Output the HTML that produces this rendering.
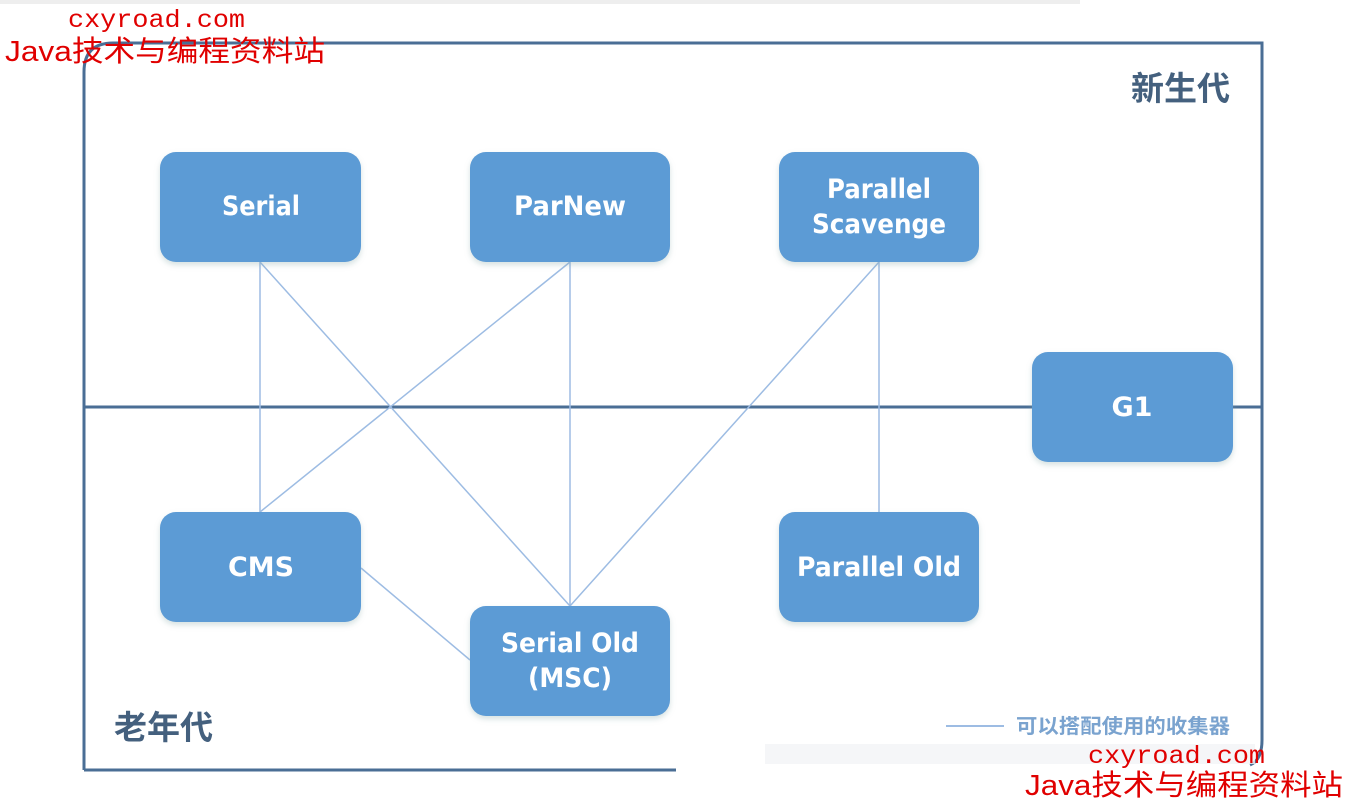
<!DOCTYPE html>
<html><head><meta charset="utf-8"><style>
html,body{margin:0;padding:0;background:#fff;width:1350px;height:803px;overflow:hidden}
svg{display:block}
</style></head><body>
<svg width="1350" height="803" viewBox="0 0 1350 803" xmlns="http://www.w3.org/2000/svg">
<defs>
<filter id="sh" x="-10%" y="-10%" width="120%" height="130%"><feDropShadow dx="0" dy="3" stdDeviation="3" flood-color="#8aa" flood-opacity="0.35"/></filter>
</defs>
<rect x="0" y="0" width="1080" height="4" fill="#eeeeee"/>
<path d="M84 770 L84 72 Q84 43 113 43 L1262 43 L1262 740 Q1262 760 1250 765" fill="none" stroke="#4a6e95" stroke-width="3"/>
<line x1="84" y1="770" x2="676" y2="770" stroke="#4a6e95" stroke-width="3"/>
<rect x="765" y="744" width="490" height="20" fill="#f2f4f6" opacity="0.8"/>
<line x1="84" y1="407" x2="1262" y2="407" stroke="#4a6e95" stroke-width="3"/>
<g stroke="#9dbce3" stroke-width="1.5" fill="none">
<line x1="260" y1="262" x2="260" y2="512"/>
<line x1="260" y1="262" x2="570" y2="606"/>
<line x1="570" y1="262" x2="260" y2="512"/>
<line x1="570" y1="262" x2="570" y2="606"/>
<line x1="879" y1="262" x2="570" y2="606"/>
<line x1="879" y1="262" x2="879" y2="512"/>
<line x1="361" y1="568" x2="470" y2="660"/>
</g>
<g fill="#5b9bd5" filter="url(#sh)">
<rect x="160" y="152" width="201" height="110" rx="16"/>
<rect x="470" y="152" width="200" height="110" rx="16"/>
<rect x="779" y="152" width="200" height="110" rx="16"/>
<rect x="1032" y="352" width="201" height="110" rx="16"/>
<rect x="160" y="512" width="201" height="110" rx="16"/>
<rect x="779" y="512" width="200" height="110" rx="16"/>
<rect x="470" y="606" width="200" height="110" rx="16"/>
</g>
<g fill="#fff" font-family="'DejaVu Sans','Liberation Sans',sans-serif" font-weight="bold" font-size="27" text-anchor="middle" lengthAdjust="spacingAndGlyphs">
<text x="261" y="215" textLength="78" lengthAdjust="spacingAndGlyphs">Serial</text>
<text x="570" y="215" textLength="112" lengthAdjust="spacingAndGlyphs">ParNew</text>
<text x="879" y="198" textLength="104" lengthAdjust="spacingAndGlyphs">Parallel</text>
<text x="879" y="233" textLength="134" lengthAdjust="spacingAndGlyphs">Scavenge</text>
<text x="1132" y="416">G1</text>
<text x="261" y="576" textLength="66" lengthAdjust="spacingAndGlyphs">CMS</text>
<text x="879" y="576" textLength="164" lengthAdjust="spacingAndGlyphs">Parallel Old</text>
<text x="570" y="652" textLength="138" lengthAdjust="spacingAndGlyphs">Serial Old</text>
<text x="570" y="687" textLength="84" lengthAdjust="spacingAndGlyphs">(MSC)</text>
</g>
<g font-family="'Noto Sans CJK SC',sans-serif" font-weight="bold" fill="#44607e" font-size="33">
<text x="1131" y="100">新生代</text>
<text x="114" y="739">老年代</text>
</g>
<line x1="946" y1="726" x2="1004" y2="726" stroke="#9dbce3" stroke-width="2"/>
<text x="1016" y="733" textLength="214" lengthAdjust="spacingAndGlyphs" font-family="'Noto Sans CJK SC',sans-serif" font-size="20" font-weight="bold" fill="#7aa3cf">可以搭配使用的收集器</text>
<g font-family="'Liberation Mono','WenQuanYi Zen Hei',monospace" fill="#e00000">
<text x="68" y="27" font-size="25" textLength="177" lengthAdjust="spacingAndGlyphs">cxyroad.com</text>
<text x="5" y="61" font-size="29" textLength="320" lengthAdjust="spacingAndGlyphs" font-family="'WenQuanYi Zen Hei','Liberation Sans',sans-serif">Java技术与编程资料站</text>
<text x="1088" y="763" font-size="25" textLength="177" lengthAdjust="spacingAndGlyphs">cxyroad.com</text>
<text x="1025" y="795" font-size="29" textLength="318" lengthAdjust="spacingAndGlyphs" font-family="'WenQuanYi Zen Hei','Liberation Sans',sans-serif">Java技术与编程资料站</text>
</g>
</svg>
</body></html>
